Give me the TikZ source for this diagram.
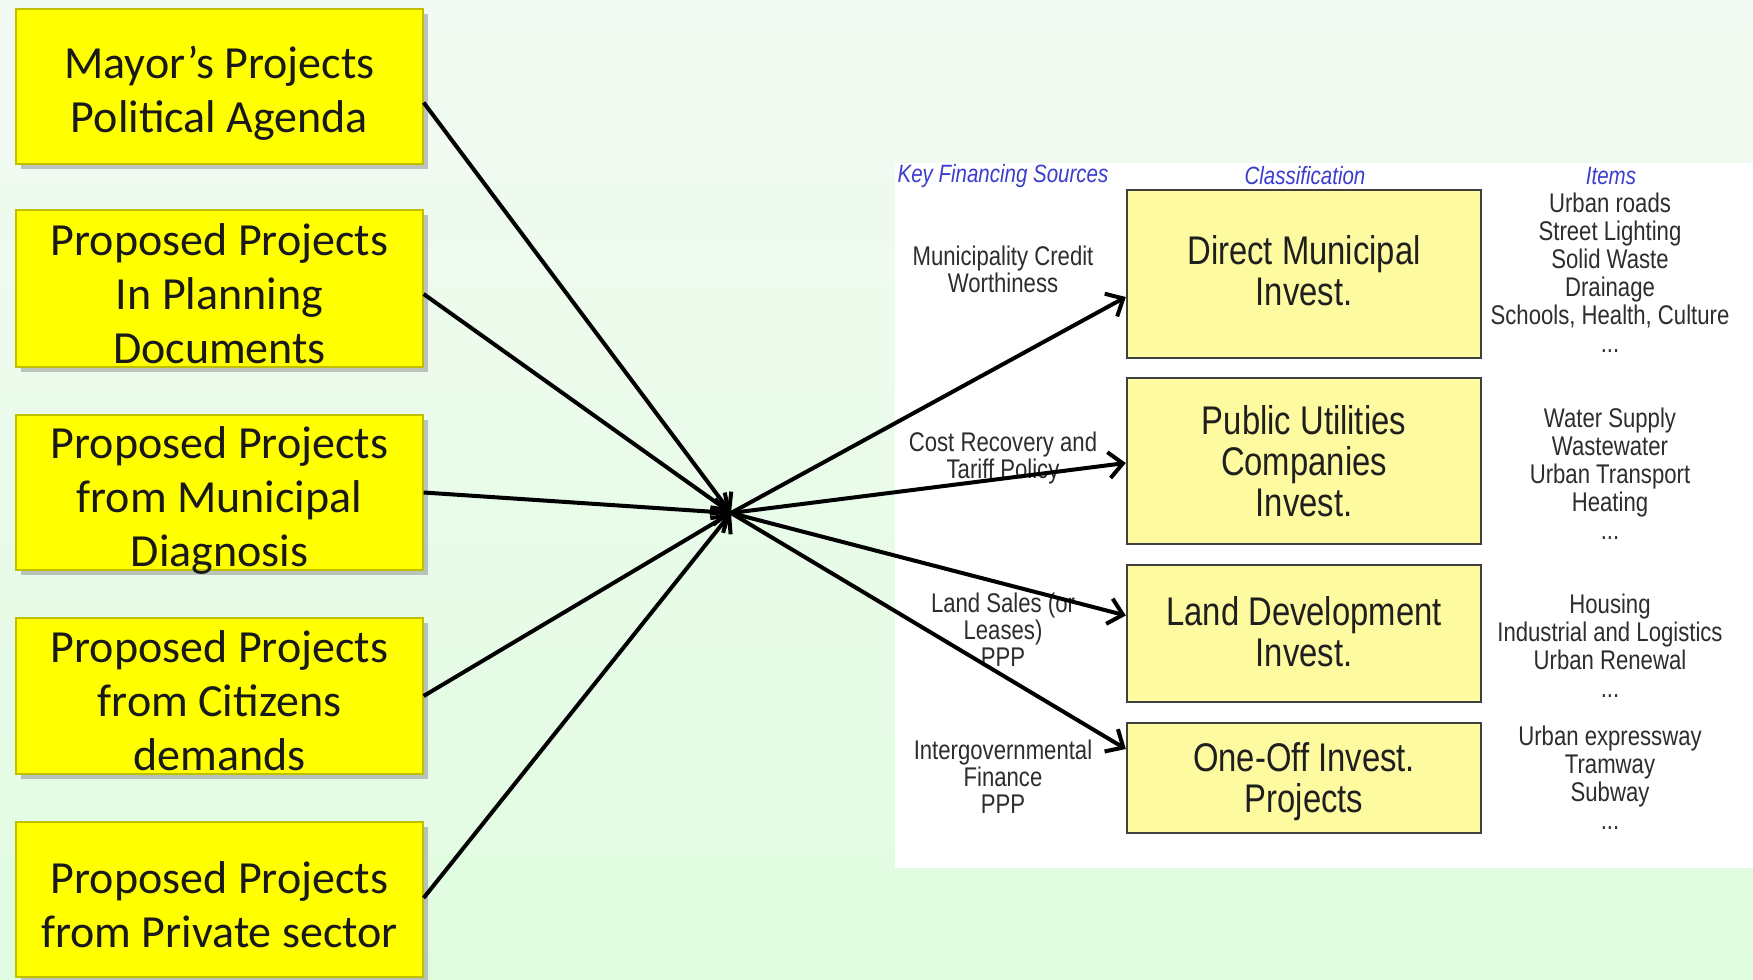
\documentclass[tikz,border=0pt]{standalone}
\usepackage{fontspec}
\usetikzlibrary{arrows.meta,calc,shadows}
\newfontfamily\calib{Carlito}
\newfontfamily\arialn[FakeStretch=0.82]{Liberation Sans}
\definecolor{bgtop}{RGB}{243,250,243}
\definecolor{bgbot}{RGB}{224,252,224}
\definecolor{lyel}{RGB}{255,255,0}
\definecolor{pyel}{RGB}{253,250,160}
\definecolor{hblue}{RGB}{60,60,205}
\definecolor{txtg}{RGB}{45,45,45}
\tikzset{
  lbox/.style={rectangle, fill=lyel, draw=lyel!75!black, line width=0.6pt,
    minimum width=203.5pt,
    drop shadow={shadow xshift=2.5pt, shadow yshift=-2.5pt, fill=black!45, opacity=0.5}},
  ltext/.style={align=center, text=black!90, font=\calib\fontsize{23}{27}\selectfont},
  rbox/.style={rectangle, fill=pyel, draw=black!75, line width=1.2pt,
    minimum width=177pt},
  rtext/.style={align=center, text=black!88, font=\arialn\fontsize{20}{20.5}\selectfont},
  hdr/.style={text=hblue, font=\arialn\itshape\fontsize{12.5}{14}\selectfont},
  fin/.style={align=center, text=txtg, font=\arialn\fontsize{13.5}{13.5}\selectfont},
  itm/.style={align=center, text=txtg, font=\arialn\fontsize{13.5}{14}\selectfont},
  conn/.style={line width=2pt, -{Straight Barb[length=7pt,width=13pt,line width=2pt]}}
}
\begin{document}
\begin{tikzpicture}[x=0.5pt,y=-0.5pt]
\useasboundingbox (0,0) rectangle (1753,980);
\shade[top color=bgtop, bottom color=bgbot] (0,0) rectangle (1753,980);
\fill[white] (895,163) rectangle (1753,868);

% left boxes
\node[lbox, minimum height=77.5pt] (b1) at (219.5,86.5) {};
\node[lbox, minimum height=78.5pt] (b2) at (219.5,288.5) {};
\node[lbox, minimum height=77.5pt] (b3) at (219.5,492.5) {};
\node[lbox, minimum height=78pt] (b4) at (219.5,696) {};
\node[lbox, minimum height=77.5pt] (b5) at (219.5,899.5) {};
\node[ltext] (t1) at ($(b1.center)+(0,7)$) {Mayor’s Projects\\Political Agenda};
\node[ltext] (t2) at ($(b2.center)+(0,5)$) {Proposed Projects\\In Planning\\Documents};
\node[ltext] (t3) at ($(b3.center)+(0,8)$) {Proposed Projects\\from Municipal\\Diagnosis};
\node[ltext] (t4) at ($(b4.center)+(0,5)$) {Proposed Projects\\from Citizens\\demands};
\node[ltext] (t5) at ($(b5.center)+(0,5)$) {Proposed Projects\\from Private sector};

% headers
\node[hdr] (h1) at (1003,176) {Key Financing Sources};
\node[hdr] (h2) at (1305,176) {Classification};
\node[hdr] (h3) at (1611,176) {Items};

% right boxes
\node[rbox, minimum height=84pt] (ra) at (1304,274) {};
\node[rbox, minimum height=83pt] (rb) at (1304,461) {};
\node[rbox, minimum height=68.5pt] (rc) at (1304,633.5) {};
\node[rbox, minimum height=55pt] (rd) at (1304,778) {};
\node[rtext] (ta) at ($(ra.center)+(0,-3)$) {Direct Municipal\\Invest.};
\node[rtext] (tb) at (rb.center) {Public Utilities\\Companies\\Invest.};
\node[rtext] (tc) at ($(rc.center)+(0,-2)$) {Land Development\\Invest.};
\node[rtext] (td) at ($(rd.center)+(0,4)$) {One-Off Invest.\\Projects};

% financing labels
\node[fin] (fa) at (1003,269) {Municipality Credit\\Worthiness};
\node[fin] (fb) at (1003,458) {Cost Recovery and\\Tariff Policy};
\node[fin] (fc) at (1003,630) {Land Sales (or\\Leases)\\PPP};
\node[fin] (fd) at (1003,777) {Intergovernmental\\Finance\\PPP};

% items
\node[itm] (ia) at (1610,273) {Urban roads\\Street Lighting\\Solid Waste\\Drainage\\Schools, Health, Culture\\...};
\node[itm] (ib) at (1610,474) {Water Supply\\Wastewater\\Urban Transport\\Heating\\...};
\node[itm] (ic) at (1610,646) {Housing\\Industrial and Logistics\\Urban Renewal\\...};
\node[itm] (id) at (1610,778) {Urban expressway\\Tramway\\Subway\\...};

% hub
\coordinate (hub) at (731,513);

\draw[conn] ($(b1.east)+(0,16)$) -- (hub);
\draw[conn] ($(b2.east)+(0,5.5)$) -- (hub);
\draw[conn] (b3.east) -- (hub);
\draw[conn] (b4.east) -- (hub);
\draw[conn] ($(b5.east)+(0,-1.5)$) -- (hub);

\draw[conn] (hub) -- ($(ra.west)+(0,23)$);
\draw[conn] (hub) -- ($(rb.west)+(0,2)$);
\draw[conn] (hub) -- ($(rc.west)+(0,-18)$);
\draw[conn] (hub) -- ($(rd.west)+(0,-29)$);
\end{tikzpicture}
\end{document}
